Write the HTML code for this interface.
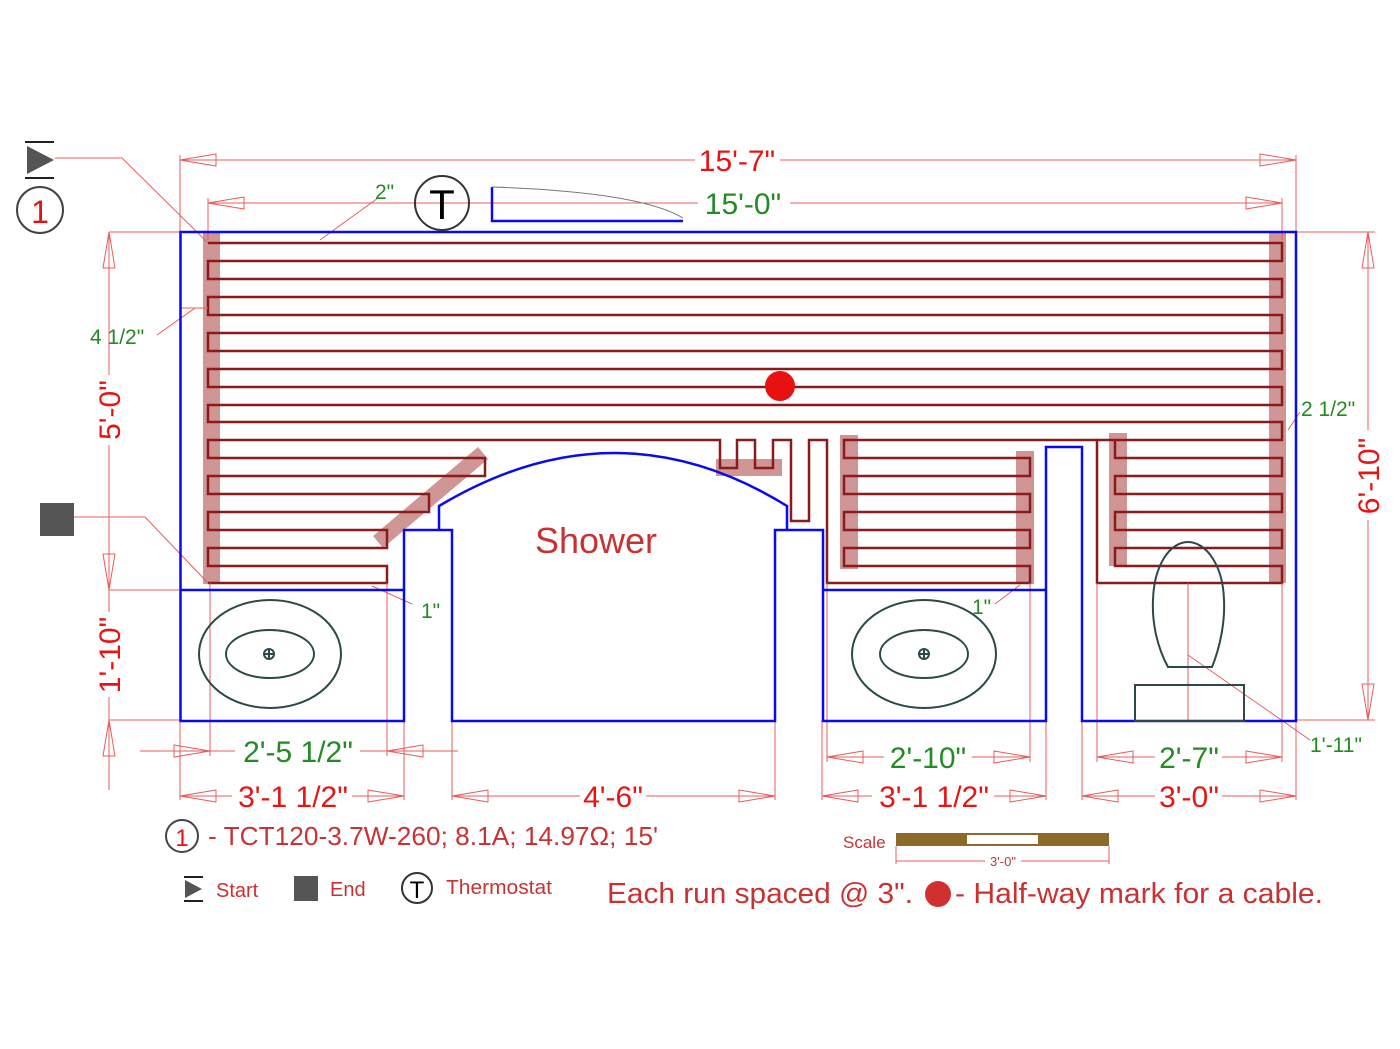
<!DOCTYPE html>
<html><head><meta charset="utf-8"><style>
html,body{margin:0;padding:0;background:#fff;}
svg{display:block;}
text{font-family:"Liberation Sans",sans-serif;}
</style></head><body>
<svg width="1400" height="1049" viewBox="0 0 1400 1049" xmlns="http://www.w3.org/2000/svg">
<defs>
<g id="arR"><path d="M0,0 L-36,-6 L-36,6 Z" fill="none" stroke="#e85c5c" stroke-width="1"/></g>
<g id="arL"><path d="M0,0 L36,-6 L36,6 Z" fill="none" stroke="#e85c5c" stroke-width="1"/></g>
<g id="arU"><path d="M0,0 L-6,36 L6,36 Z" fill="none" stroke="#e85c5c" stroke-width="1"/></g>
<g id="arD"><path d="M0,0 L-6,-36 L6,-36 Z" fill="none" stroke="#e85c5c" stroke-width="1"/></g>
</defs>

<g fill="#c47a7a" opacity="0.8">
<rect x="203" y="233" width="17" height="351"/>
<rect x="1269" y="233" width="17" height="350"/>
<rect x="840" y="435" width="18" height="134"/>
<rect x="1016" y="451" width="18" height="133"/>
<rect x="1109" y="433" width="18" height="133"/>
<rect x="716" y="459" width="66" height="17"/>
<polygon points="373,536 478,447 488,459 383,548"/>
</g>

<g fill="none" stroke="#8b1a1a" stroke-width="2.5">
<path d="M208,243 H1282 V261 H208 V279 H1282 V297 H208 V315 H1282 V333 H208 V351 H1282 V369 H208 V387 H1282 V405 H208 V422 H1282 V440 H1097 V583 H1282 V566 H1115 V548 H1282 V530 H1115 V512 H1282 V494 H1115 V476 H1282 V458 H1115 V440"/>
<path d="M1097,440 H844 V458 H1030 V476 H844 V494 H1030 V512 H844 V530 H1030 V548 H844 V566 H1030 V583 H827 V440 H809 V521 H791 V440 H773 V468 H755 V440 H737 V468 H720 V440 H208 V458 H485 V476 H208 V494 H429 V512 H208 V530 H387 V548 H208 V566 H387 V583 H208"/>
</g>

<g stroke="#e85c5c" stroke-width="1" fill="none">
<line x1="180" y1="160" x2="695" y2="160"/><line x1="780" y1="160" x2="1296" y2="160"/>
<line x1="180" y1="155" x2="180" y2="232"/><line x1="1296" y1="155" x2="1296" y2="232"/>
<line x1="208" y1="203" x2="698" y2="203"/><line x1="790" y1="203" x2="1282" y2="203"/>
<line x1="208" y1="198" x2="208" y2="240"/><line x1="1282" y1="198" x2="1282" y2="240"/>
<line x1="1368" y1="232" x2="1368" y2="430"/><line x1="1368" y1="520" x2="1368" y2="720"/>
<line x1="1296" y1="232" x2="1375" y2="232"/><line x1="1296" y1="720" x2="1375" y2="720"/>
<line x1="109" y1="232" x2="109" y2="375"/><line x1="109" y1="445" x2="109" y2="612"/><line x1="109" y1="697" x2="109" y2="790"/>
<line x1="109" y1="232" x2="181" y2="232"/><line x1="109" y1="590" x2="181" y2="590"/><line x1="109" y1="720" x2="181" y2="720"/>
<line x1="180" y1="720" x2="180" y2="800"/><line x1="404" y1="720" x2="404" y2="800"/>
<line x1="452" y1="720" x2="452" y2="800"/><line x1="775" y1="720" x2="775" y2="800"/>
<line x1="822" y1="720" x2="822" y2="800"/><line x1="1046" y1="720" x2="1046" y2="800"/>
<line x1="1082" y1="720" x2="1082" y2="800"/><line x1="1296" y1="720" x2="1296" y2="800"/>
<line x1="210" y1="583" x2="210" y2="756"/><line x1="387" y1="583" x2="387" y2="756"/>
<line x1="827" y1="583" x2="827" y2="762"/><line x1="1030" y1="583" x2="1030" y2="762"/>
<line x1="1097" y1="583" x2="1097" y2="762"/><line x1="1282" y1="583" x2="1282" y2="762"/>
<line x1="1188" y1="583" x2="1188" y2="720"/>
<line x1="140" y1="751" x2="235" y2="751"/><line x1="360" y1="751" x2="458" y2="751"/>
<line x1="180" y1="796" x2="232" y2="796"/><line x1="352" y1="796" x2="404" y2="796"/>
<line x1="452" y1="796" x2="580" y2="796"/><line x1="646" y1="796" x2="775" y2="796"/>
<line x1="822" y1="796" x2="872" y2="796"/><line x1="994" y1="796" x2="1046" y2="796"/>
<line x1="1082" y1="796" x2="1155" y2="796"/><line x1="1222" y1="796" x2="1296" y2="796"/>
<line x1="827" y1="757" x2="884" y2="757"/><line x1="972" y1="757" x2="1030" y2="757"/>
<line x1="1097" y1="757" x2="1155" y2="757"/><line x1="1222" y1="757" x2="1282" y2="757"/>
<polyline points="55,158 122,158 208,243"/>
<polyline points="73,517 145,517 208,583"/>
<line x1="378" y1="198" x2="320" y2="240"/>
<polyline points="157,335 195,308 181,308 208,308"/>
<line x1="1300" y1="412" x2="1288" y2="430"/>
<line x1="412" y1="604" x2="372" y2="586"/>
<line x1="995" y1="604" x2="1020" y2="585"/>
<line x1="1188" y1="655" x2="1310" y2="740"/>
</g>
<use href="#arL" x="180" y="160"/><use href="#arR" x="1296" y="160"/>
<use href="#arL" x="208" y="203"/><use href="#arR" x="1282" y="203"/>
<use href="#arU" x="1368" y="232"/><use href="#arD" x="1368" y="720"/>
<use href="#arU" x="109" y="232"/><use href="#arD" x="109" y="590"/><use href="#arU" x="109" y="720"/>
<use href="#arR" x="210" y="751"/><use href="#arL" x="387" y="751"/>
<use href="#arL" x="180" y="796"/><use href="#arR" x="404" y="796"/>
<use href="#arL" x="452" y="796"/><use href="#arR" x="775" y="796"/>
<use href="#arL" x="822" y="796"/><use href="#arR" x="1046" y="796"/>
<use href="#arL" x="1082" y="796"/><use href="#arR" x="1296" y="796"/>
<use href="#arL" x="827" y="757"/><use href="#arR" x="1030" y="757"/>
<use href="#arL" x="1097" y="757"/><use href="#arR" x="1282" y="757"/>

<g fill="none" stroke="#0a0aee" stroke-width="2.5">
<path d="M180.5,232 H1296 V721 H1082 V447 H1046 V721 H823 V530 H775 V721 H452 V530 H404 V721 H180.5 Z"/>
<line x1="180.5" y1="590" x2="404" y2="590"/>
<line x1="823" y1="590" x2="1046" y2="590"/>
<path d="M439,530 V506 Q616,400 787,506 V530"/>
<path d="M492,187 V221 H683"/>
</g>
<path d="M492,187 Q640,192 683,218" fill="none" stroke="#777" stroke-width="1"/>

<g fill="none" stroke="#2a4a4a" stroke-width="2">
<ellipse cx="270" cy="654" rx="71" ry="54"/><ellipse cx="270" cy="654" rx="44" ry="24"/>
<circle cx="269" cy="654" r="5"/><line x1="264" y1="654" x2="274" y2="654"/><line x1="269" y1="649" x2="269" y2="659"/>
<ellipse cx="924" cy="654" rx="72" ry="54"/><ellipse cx="924" cy="654" rx="44" ry="24"/>
<circle cx="924" cy="654" r="5"/><line x1="919" y1="654" x2="929" y2="654"/><line x1="924" y1="649" x2="924" y2="659"/>
<path d="M1168,667 C1156,645 1152,620 1153,600 C1154,565 1170,542 1188,542 C1206,542 1223,565 1224,600 C1225,620 1221,645 1212,667 Z"/>
<rect x="1135" y="685" width="109" height="36"/>
</g>

<circle cx="780" cy="386" r="15" fill="#e81010"/>

<g>
<line x1="25" y1="142" x2="54" y2="142" stroke="#222" stroke-width="2"/>
<line x1="25" y1="178" x2="54" y2="178" stroke="#222" stroke-width="2"/>
<polygon points="27,146 54,160 27,174" fill="#555"/>
<circle cx="40" cy="210" r="23" fill="none" stroke="#444" stroke-width="2"/>
<text x="40" y="223" font-size="32" fill="#e81010" text-anchor="middle">1</text>
<rect x="40" y="503" width="34" height="33" fill="#555"/>
<circle cx="442" cy="203" r="27" fill="none" stroke="#333" stroke-width="2"/>
<text x="442" y="219" font-size="42" fill="#000" text-anchor="middle">T</text>
</g>

<g font-size="30" fill="#e81414" text-anchor="middle">
<text x="737" y="171">15'-7"</text>
<text x="293" y="807">3'-1 1/2"</text>
<text x="613" y="807">4'-6"</text>
<text x="934" y="807">3'-1 1/2"</text>
<text x="1189" y="807">3'-0"</text>
<text transform="translate(1379,476) rotate(-90)">6'-10"</text>
<text transform="translate(120,410) rotate(-90)">5'-0"</text>
<text transform="translate(120,655) rotate(-90)">1'-10"</text>
</g>
<g font-size="30" fill="#228b22" text-anchor="middle">
<text x="743" y="214">15'-0"</text>
<text x="298" y="762">2'-5 1/2"</text>
<text x="928" y="768">2'-10"</text>
<text x="1189" y="768">2'-7"</text>
</g>
<g font-size="21" fill="#228b22">
<text x="375" y="199">2"</text>
<text x="90" y="344">4 1/2"</text>
<text x="1301" y="416">2 1/2"</text>
<text x="421" y="618">1"</text>
<text x="972" y="614">1"</text>
<text x="1310" y="752">1'-11"</text>
</g>
<text x="596" y="553" font-size="36" fill="#c83232" text-anchor="middle">Shower</text>

<circle cx="182" cy="836" r="16" fill="none" stroke="#444" stroke-width="2"/>
<text x="182" y="846" font-size="24" fill="#e81010" text-anchor="middle">1</text>
<text x="208" y="845" font-size="26" fill="#c83232" textLength="450" lengthAdjust="spacingAndGlyphs">- TCT120-3.7W-260; 8.1A; 14.97Ω; 15'</text>
<line x1="184" y1="877" x2="203" y2="877" stroke="#222" stroke-width="2"/>
<line x1="184" y1="901" x2="203" y2="901" stroke="#222" stroke-width="2"/>
<polygon points="185,880 202,889 185,898" fill="#555"/>
<text x="216" y="897" font-size="20" fill="#c83232">Start</text>
<rect x="294" y="876" width="24" height="25" fill="#555"/>
<text x="330" y="896" font-size="20" fill="#c83232">End</text>
<circle cx="417" cy="888" r="15" fill="none" stroke="#333" stroke-width="2"/>
<text x="417" y="898" font-size="24" fill="#000" text-anchor="middle">T</text>
<text x="446" y="894" font-size="20" fill="#c83232" textLength="106" lengthAdjust="spacingAndGlyphs">Thermostat</text>
<text x="607" y="903" font-size="29" fill="#c83232" textLength="306" lengthAdjust="spacingAndGlyphs">Each run spaced @ 3".</text>
<circle cx="938" cy="894" r="13" fill="#d03030"/>
<text x="955" y="903" font-size="29" fill="#c83232" textLength="368" lengthAdjust="spacingAndGlyphs">- Half-way mark for a cable.</text>

<text x="843" y="848" font-size="17" fill="#c83232">Scale</text>
<rect x="896" y="833" width="213" height="13" fill="#8b6a2a"/>
<rect x="967" y="835" width="71" height="9" fill="#fff"/>
<g stroke="#e85c5c" stroke-width="1">
<line x1="896" y1="846" x2="896" y2="864"/><line x1="1109" y1="846" x2="1109" y2="864"/>
<line x1="896" y1="861" x2="985" y2="861"/><line x1="1021" y1="861" x2="1109" y2="861"/>
</g>
<text x="1003" y="866" font-size="13" fill="#c83232" text-anchor="middle">3'-0"</text>
</svg>
</body></html>
